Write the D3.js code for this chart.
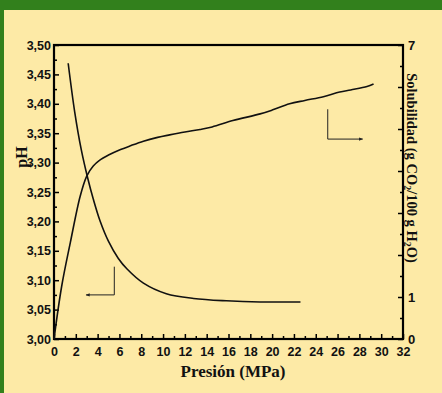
<!DOCTYPE html>
<html>
<head>
<meta charset="utf-8">
<script src="https://cdn.jsdelivr.net/npm/d3@7"></script>
<style>
  html, body { margin: 0; padding: 0; background: #fdeaa6; }
  svg { display: block; }
</style>
</head>
<body>
<script>
// pH vs pressure (MPa)
const phPressure = [1.3, 1.9, 2.5, 3.1, 3.6, 4.2, 5.0, 5.9, 6.7, 8.2, 10.3, 12.8, 15.8, 18.9, 22.6];
const phValues   = [3.469, 3.386, 3.322, 3.273, 3.238, 3.202, 3.166, 3.137, 3.119, 3.095, 3.077, 3.069, 3.065, 3.063, 3.063];

// solubility (g CO2 / 100 g H2O) vs pressure
const solPressure = [0, 0.7, 1.5, 2.4, 3.0, 3.6, 4.2, 5.0, 6.0, 7.0, 8.2, 9.5, 10.6, 12.0, 13.4, 14.5, 16.4, 18.9, 20.0, 21.6, 23.0, 24.7, 26.2, 27.2, 28.7, 29.3];
const solValues   = [0, 1.25, 2.3, 3.4, 3.88, 4.12, 4.26, 4.38, 4.5, 4.6, 4.71, 4.8, 4.86, 4.93, 4.99, 5.05, 5.2, 5.36, 5.45, 5.6, 5.68, 5.77, 5.88, 5.93, 6.01, 6.07];

const xTicks = [0, 2, 4, 6, 8, 10, 12, 14, 16, 18, 20, 22, 24, 26, 28, 30, 32];
const phTicks = [3.00, 3.05, 3.10, 3.15, 3.20, 3.25, 3.30, 3.35, 3.40, 3.45, 3.50];
const solTicks = [0, 1, 2, 3, 4, 5, 6, 7];
const solTickLabels = [0, 1, 7];

// arrows (data coords): [x, y] path, last point gets arrow head
const phArrow = [[5.53, 3.123], [5.53, 3.075], [2.94, 3.075]];
const solArrow = [[25.1, 5.47], [25.1, 4.76], [28.3, 4.76]];

const w = 442, h = 393;
const mLeft = 54, mRight = 403, mTop = 45, mBottom = 339;

const svg = d3.select("body").append("svg")
  .attr("width", w)
  .attr("height", h);

svg.append("rect").attr("width", w).attr("height", h).attr("fill", "#fdeaa6");
// green frame bits
svg.append("rect").attr("x", 0).attr("y", 0).attr("width", w).attr("height", 10).attr("fill", "#32801c");
svg.append("rect").attr("x", 0).attr("y", 0).attr("width", 4).attr("height", h).attr("fill", "#32801c");

const x = d3.scaleLinear().domain([0, 32]).range([mLeft, mRight]);
const yPh = d3.scaleLinear().domain([3.0, 3.5]).range([mBottom, mTop]);
const ySol = d3.scaleLinear().domain([0, 7]).range([mBottom, mTop]);

const comma = d => d3.format(".2f")(d).replace(".", ",");

function styleAxis(g) {
  g.select(".domain").remove();
  g.selectAll("line").attr("stroke", "#000").attr("stroke-width", 1.5);
  g.selectAll("text")
    .attr("font-family", "Liberation Sans, Arial, sans-serif")
    .attr("font-size", 12.5)
    .attr("font-weight", "bold")
    .attr("fill", "#111");
}

// minor ticks
svg.append("g").attr("transform", `translate(0,${mBottom})`)
  .call(d3.axisBottom(x).tickValues(d3.range(1, 32, 2)).tickSize(-3).tickFormat(""))
  .call(styleAxis);
svg.append("g").attr("transform", `translate(${mLeft},0)`)
  .call(d3.axisLeft(yPh).tickValues(d3.range(3.025, 3.5, 0.05)).tickSize(-3).tickFormat(""))
  .call(styleAxis);
svg.append("g").attr("transform", `translate(${mRight},0)`)
  .call(d3.axisRight(ySol).tickValues(d3.range(0.5, 7, 1)).tickSize(-3).tickFormat(""))
  .call(styleAxis);

// major ticks
svg.append("g").attr("transform", `translate(0,${mBottom})`)
  .call(d3.axisBottom(x).tickValues(xTicks).tickSize(-5).tickPadding(8).tickFormat(d3.format("d")))
  .call(styleAxis);
svg.append("g").attr("transform", `translate(${mLeft},0)`)
  .call(d3.axisLeft(yPh).tickValues(phTicks).tickSize(-5).tickPadding(3).tickFormat(comma))
  .call(styleAxis);
const rAx = svg.append("g").attr("transform", `translate(${mRight},0)`)
  .call(d3.axisRight(ySol).tickValues(solTicks).tickSize(-5).tickPadding(5)
    .tickFormat(d => solTickLabels.includes(d) ? d : ""))
  .call(styleAxis);
rAx.selectAll("text").attr("font-size", 13);

// frame
svg.append("rect")
  .attr("x", mLeft).attr("y", mTop)
  .attr("width", mRight - mLeft).attr("height", mBottom - mTop)
  .attr("fill", "none").attr("stroke", "#000").attr("stroke-width", 2.2);

// curves
const phLine = d3.line()
  .x((d, i) => x(phPressure[i]))
  .y(d => yPh(d))
  .curve(d3.curveCatmullRom);
svg.append("path")
  .attr("d", phLine(phValues))
  .attr("fill", "none").attr("stroke", "#111").attr("stroke-width", 1.6);

const solLine = d3.line()
  .x((d, i) => x(solPressure[i]))
  .y(d => ySol(d))
  .curve(d3.curveCatmullRom);
svg.append("path")
  .attr("d", solLine(solValues))
  .attr("fill", "none").attr("stroke", "#111").attr("stroke-width", 1.6);

// arrows
svg.append("defs").append("marker")
  .attr("id", "head")
  .attr("viewBox", "0 0 10 10")
  .attr("refX", 9).attr("refY", 5)
  .attr("markerWidth", 6).attr("markerHeight", 4)
  .attr("orient", "auto")
  .append("path").attr("d", "M0,1 L10,5 L0,9 Z").attr("fill", "#222");

svg.append("path")
  .attr("d", d3.line().x(d => x(d[0])).y(d => yPh(d[1]))(phArrow))
  .attr("fill", "none").attr("stroke", "#222").attr("stroke-width", 1)
  .attr("marker-end", "url(#head)");
svg.append("path")
  .attr("d", d3.line().x(d => x(d[0])).y(d => ySol(d[1]))(solArrow))
  .attr("fill", "none").attr("stroke", "#222").attr("stroke-width", 1)
  .attr("marker-end", "url(#head)");

// axis titles
svg.append("text")
  .attr("x", 233)
  .attr("y", 377)
  .attr("text-anchor", "middle")
  .attr("font-family", "Liberation Serif, Times New Roman, serif")
  .attr("font-weight", "bold")
  .attr("font-size", 17)
  .attr("fill", "#111")
  .text("Presión (MPa)");

svg.append("text")
  .attr("transform", "translate(27,157) rotate(-90)")
  .attr("text-anchor", "middle")
  .attr("font-family", "Liberation Serif, Times New Roman, serif")
  .attr("font-weight", "bold")
  .attr("font-size", 16)
  .attr("fill", "#111")
  .text("pH");

const solTitle = svg.append("text")
  .attr("transform", "translate(407,168) rotate(90)")
  .attr("text-anchor", "middle")
  .attr("font-family", "Liberation Serif, Times New Roman, serif")
  .attr("font-weight", "bold")
  .attr("font-size", 14.5)
  .attr("fill", "#111");
solTitle.append("tspan").text("Solubilidad (g CO");
solTitle.append("tspan").attr("font-size", 10).attr("dy", 3).text("2");
solTitle.append("tspan").attr("dy", -3).text("/100 g H");
solTitle.append("tspan").attr("font-size", 10).attr("dy", 3).text("2");
solTitle.append("tspan").attr("dy", -3).text("O)");
</script>
</body>
</html>
